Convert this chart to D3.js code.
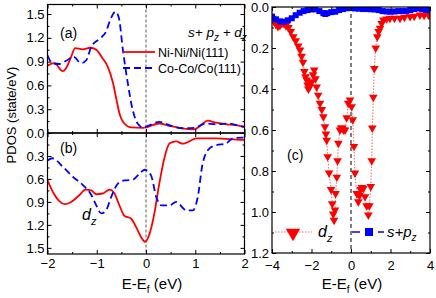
<!DOCTYPE html>
<html>
<head>
<meta charset="utf-8">
<script src="https://cdnjs.cloudflare.com/ajax/libs/d3/7.8.5/d3.min.js"></script>
<style>
body { margin: 0; background: #fff; }
text { font-family: "Liberation Sans", Arial, sans-serif; }
</style>
</head>
<body>
<div id="chart"></div>
<script>
// panel (a): s+pz+dz
var aRedE = [-2, -1.86, -1.69, -1.62, -1.52, -1.44, -1.29, -1.13, -1.01, -0.88, -0.78, -0.67, -0.6, -0.54, -0.44, -0.3, -0.06, 0.27, 0.48, 0.68, 0.98, 1.12, 1.25, 1.42, 1.63, 1.83, 2.0]
var aRedV = [0.85, 0.88, 0.78, 0.82, 0.96, 1.07, 1.055, 1.075, 1.05, 0.94, 0.84, 0.63, 0.42, 0.25, 0.12, 0.07, 0.065, 0.12, 0.09, 0.065, 0.045, 0.10, 0.155, 0.13, 0.11, 0.10, 0.07]
var aBlueE = [-2, -1.9, -1.76, -1.62, -1.47, -1.32, -1.21, -1.11, -0.94, -0.81, -0.73, -0.62, -0.55, -0.47, -0.37, -0.27, -0.17, -0.06, 0, 0.27, 0.51, 0.75, 0.98, 1.21, 1.42, 1.69, 1.9, 2.0]
var aBlueV = [0.98, 0.88, 0.87, 0.91, 0.96, 0.88, 0.92, 1.09, 1.19, 1.28, 1.42, 1.53, 1.45, 1.05, 0.63, 0.29, 0.12, 0.07, 0.08, 0.14, 0.09, 0.06, 0.065, 0.12, 0.11, 0.12, 0.09, 0.08]

// panel (b): dz (axis reversed)
var bRedE = [-2, -1.89, -1.76, -1.65, -1.52, -1.35, -1.23, -1.11, -1.01, -0.88, -0.74, -0.64, -0.54, -0.44, -0.30, -0.20, -0.10, -0.02, 0.07, 0.17, 0.27, 0.38, 0.48, 0.61, 0.75, 0.88, 1.02, 1.42, 1.96, 2.0]
var bRedV = [0.62, 0.77, 0.89, 0.93, 0.90, 0.81, 0.74, 0.75, 0.80, 0.79, 0.74, 0.79, 0.945, 1.08, 1.12, 1.23, 1.36, 1.42, 1.32, 1.05, 0.66, 0.31, 0.135, 0.11, 0.14, 0.11, 0.07, 0.07, 0.09, 0.09]
var bBlueE = [-2, -1.9, -1.69, -1.49, -1.28, -1.11, -1.01, -0.91, -0.81, -0.71, -0.57, -0.44, -0.27, -0.13, -0.03, 0.1, 0.21, 0.31, 0.48, 0.61, 0.82, 0.95, 1.05, 1.15, 1.29, 1.42, 1.63, 1.76, 1.96, 2.0]
var bBlueV = [0.36, 0.33, 0.44, 0.57, 0.68, 0.81, 0.945, 1.05, 1.01, 0.84, 0.66, 0.62, 0.61, 0.53, 0.48, 0.55, 0.84, 0.945, 0.945, 0.90, 1.01, 1.01, 0.84, 0.40, 0.20, 0.16, 0.135, 0.07, 0.06, 0.06]

// panel (c): dz (triangles) and s+pz (squares)
var cDzE = [-4.0, -3.9, -3.8, -3.7, -3.6, -3.5, -3.43, -3.3, -3.17, -3.05, -2.92, -2.8, -2.67, -2.58, -2.5, -2.43, -2.36, -2.3, -2.24, -2.2, -2.16, -2.1, -2.04, -1.99, -1.92, -1.86, -1.8, -1.74, -1.66, -1.57, -1.48, -1.40, -1.32, -1.27, -1.23, -1.18, -1.11, -1.01, -0.95, -0.9, -0.86, -0.81, -0.78, -0.72, -0.68, -0.64, -0.56, -0.5, -0.44, -0.37, -0.30, -0.22, -0.14, -0.05, 0.03, 0.09, 0.15, 0.2, 0.29, 0.37, 0.43, 0.49, 0.55, 0.62, 0.71, 0.79, 0.88, 0.93, 1.0, 1.05, 1.08, 1.13, 1.18, 1.25, 1.33, 1.4, 1.47, 1.55, 1.64, 1.8, 1.97, 2.2, 2.48, 2.7, 2.99, 3.2, 3.49, 3.7, 3.92, 4.0]
var cDzV = [0.055, 0.07, 0.085, 0.095, 0.09, 0.08, 0.08, 0.09, 0.10, 0.12, 0.145, 0.165, 0.19, 0.21, 0.24, 0.27, 0.315, 0.34, 0.356, 0.38, 0.40, 0.39, 0.37, 0.364, 0.33, 0.307, 0.35, 0.39, 0.43, 0.47, 0.50, 0.535, 0.584, 0.62, 0.65, 0.73, 0.81, 0.89, 0.96, 1.01, 1.04, 0.99, 0.91, 0.83, 0.75, 0.665, 0.60, 0.59, 0.59, 0.60, 0.60, 0.54, 0.47, 0.454, 0.486, 0.55, 0.68, 0.81, 0.91, 0.95, 0.92, 0.89, 0.88, 0.885, 0.925, 0.97, 1.015, 0.97, 0.876, 0.75, 0.59, 0.44, 0.30, 0.20, 0.145, 0.12, 0.104, 0.08, 0.063, 0.058, 0.055, 0.055, 0.055, 0.05, 0.047, 0.045, 0.039, 0.04, 0.039, 0.04]
var cSpE = [-4.0, -3.8, -3.6, -3.4, -3.2, -3.0, -2.8, -2.6, -2.4, -2.2, -2.0, -1.8, -1.6, -1.4, -1.3, -1.2, -1.0, -0.8, -0.6, -0.4, -0.2, 0.0, 0.2, 0.4, 0.6, 0.8, 1.0, 1.2, 1.4, 1.6, 1.8, 2.0, 2.2, 2.4, 2.6, 2.8, 3.0, 3.2, 3.4, 3.6, 3.8, 4.0]
var cSpV = [0.047, 0.06, 0.07, 0.072, 0.065, 0.055, 0.04, 0.028, 0.02, 0.015, 0.012, 0.011, 0.02, 0.03, 0.034, 0.03, 0.025, 0.023, 0.015, 0.01, 0.006, 0.005, 0.007, 0.008, 0.01, 0.01, 0.011, 0.012, 0.015, 0.02, 0.022, 0.023, 0.022, 0.02, 0.02, 0.02, 0.015, 0.01, 0.007, 0.01, 0.014, 0.016]

var leftYTicks = [0, 0.3, 0.6, 0.9, 1.2, 1.5]
var leftXTicks = [-2, -1, 0, 1, 2]
var cXTicks = [-4, -2, 0, 2, 4]
var cYTicks = [0, 0.2, 0.4, 0.6, 0.8, 1.0, 1.2]

var red = "#ff0000", blue = "#0000ff";

var svg = d3.select("#chart").append("svg")
    .attr("width", 436).attr("height", 298)
    .style("background", "#fff");

var xL = d3.scaleLinear().domain([-2, 2]).range([47.5, 244.5]);
var yA = d3.scaleLinear().domain([0, 1.62]).range([133, 4.5]);
var yB = d3.scaleLinear().domain([0, 1.58]).range([133, 254]);
var xC = d3.scaleLinear().domain([-4, 4]).range([272, 430]);
var yC = d3.scaleLinear().domain([0, 1.2]).range([7, 253]);

function zip(e, v) { return e.map(function(d, i) { return [d, v[i]] }) }

function ticks(axisFn, scale, vals, len, pos, labels, fmt, pad) {
  var ax = axisFn(scale).tickValues(vals).tickSizeInner(len).tickSizeOuter(0)
      .tickPadding(pad || 3)
      .tickFormat(labels ? fmt : "");
  var g = svg.append("g").attr("transform", pos).call(ax);
  g.select(".domain").remove();
  g.selectAll("line").attr("stroke", "#000");
  g.selectAll("text").attr("font-size", 13).attr("fill", "#000")
    .attr("font-family", "'Liberation Sans', Arial, sans-serif");
  return g;
}
function minors(domain, step) {
  var out = [];
  for (var v = domain[0]; v <= domain[1] + 1e-9; v += step) out.push(+v.toFixed(3));
  return out;
}

// clip paths
var defs = svg.append("defs");
defs.append("clipPath").attr("id", "clipA").append("rect").attr("x", 47.5).attr("y", 4.5).attr("width", 197).attr("height", 128.5);
defs.append("clipPath").attr("id", "clipB").append("rect").attr("x", 47.5).attr("y", 133).attr("width", 197).attr("height", 121);
defs.append("clipPath").attr("id", "clipC").append("rect").attr("x", 272).attr("y", 7).attr("width", 158).attr("height", 246);

// zero lines
svg.append("line").attr("x1", xL(0)).attr("x2", xL(0)).attr("y1", 4.5).attr("y2", 254)
  .attr("stroke", "#808080").attr("stroke-width", 1.3).attr("stroke-dasharray", "3,2");
svg.append("line").attr("x1", xC(0)).attr("x2", xC(0)).attr("y1", 7).attr("y2", 253)
  .attr("stroke", "#000").attr("stroke-width", 1).attr("stroke-dasharray", "4,3");

// curves panel a/b
var lineA = d3.line().x(function(d) { return xL(d[0]) }).y(function(d) { return yA(d[1]) }).curve(d3.curveMonotoneX);
var lineB = d3.line().x(function(d) { return xL(d[0]) }).y(function(d) { return yB(d[1]) }).curve(d3.curveMonotoneX);

var gA = svg.append("g").attr("clip-path", "url(#clipA)");
gA.append("path").attr("d", lineA(zip(aRedE, aRedV))).attr("fill", "none").attr("stroke", red).attr("stroke-width", 1.8);
gA.append("path").attr("d", lineA(zip(aBlueE, aBlueV))).attr("fill", "none").attr("stroke", blue).attr("stroke-width", 1.8).attr("stroke-dasharray", "7,4");
var gB = svg.append("g").attr("clip-path", "url(#clipB)");
gB.append("path").attr("d", lineB(zip(bRedE, bRedV))).attr("fill", "none").attr("stroke", red).attr("stroke-width", 1.8);
gB.append("path").attr("d", lineB(zip(bBlueE, bBlueV))).attr("fill", "none").attr("stroke", blue).attr("stroke-width", 1.8).attr("stroke-dasharray", "7,4");

// panel c
var lineC = d3.line().x(function(d) { return xC(d[0]) }).y(function(d) { return yC(d[1]) });
var gC = svg.append("g").attr("clip-path", "url(#clipC)");
var dz = zip(cDzE, cDzV), sp = zip(cSpE, cSpV);
gC.append("path").attr("d", lineC(dz)).attr("fill", "none").attr("stroke", "#ff5050").attr("stroke-width", 0.9).attr("stroke-dasharray", "1.5,1.5");
gC.append("path").attr("d", lineC(sp)).attr("fill", "none").attr("stroke", blue).attr("stroke-width", 3);
var tri = d3.symbol().type(d3.symbolTriangle).size(32);
gC.selectAll(".tri").data(dz).enter().append("path")
  .attr("d", tri)
  .attr("transform", function(d) { return "translate(" + xC(d[0]) + "," + yC(d[1]) + ") rotate(180)" })
  .attr("fill", red);
gC.selectAll(".sq").data(sp).enter().append("rect")
  .attr("x", function(d) { return xC(d[0]) - 3 }).attr("y", function(d) { return yC(d[1]) - 3 })
  .attr("width", 6).attr("height", 6).attr("fill", blue);

// frames
[[47.5, 4.5, 197, 128.5], [47.5, 133, 197, 121], [272, 7, 158, 246]].forEach(function(r) {
  svg.append("rect").attr("x", r[0]).attr("y", r[1]).attr("width", r[2]).attr("height", r[3])
    .attr("fill", "none").attr("stroke", "#000").attr("stroke-width", 1.2);
});

var f1 = d3.format(".1f"), f0 = d3.format("d");

// panel a ticks
ticks(d3.axisLeft, yA, leftYTicks, -4, "translate(47.5,0)", true, f1);
ticks(d3.axisLeft, yA, minors([0.15, 1.55], 0.3), -2, "translate(47.5,0)", false);
ticks(d3.axisRight, yA, leftYTicks, -4, "translate(244.5,0)", false);
ticks(d3.axisRight, yA, minors([0.15, 1.55], 0.3), -2, "translate(244.5,0)", false);
ticks(d3.axisBottom, xL, leftXTicks, -4, "translate(0,133)", false);
ticks(d3.axisBottom, xL, minors([-1.5, 1.5], 1), -2, "translate(0,133)", false);
ticks(d3.axisTop, xL, leftXTicks, -4, "translate(0,4.5)", false);
ticks(d3.axisTop, xL, minors([-1.5, 1.5], 1), -2, "translate(0,4.5)", false);

// panel b ticks
ticks(d3.axisLeft, yB, leftYTicks.slice(1), -4, "translate(47.5,0)", true, f1);
ticks(d3.axisLeft, yB, minors([0.15, 1.45], 0.3), -2, "translate(47.5,0)", false);
ticks(d3.axisRight, yB, leftYTicks, -4, "translate(244.5,0)", false);
ticks(d3.axisRight, yB, minors([0.15, 1.45], 0.3), -2, "translate(244.5,0)", false);
ticks(d3.axisBottom, xL, leftXTicks, -4, "translate(0,254)", true, f0, 5);
ticks(d3.axisBottom, xL, minors([-1.5, 1.5], 1), -2, "translate(0,254)", false);
ticks(d3.axisTop, xL, leftXTicks, -4, "translate(0,133)", false);
ticks(d3.axisTop, xL, minors([-1.5, 1.5], 1), -2, "translate(0,133)", false);

// panel c ticks
ticks(d3.axisLeft, yC, cYTicks, -4, "translate(272,0)", true, f1);
ticks(d3.axisLeft, yC, minors([0.1, 1.1], 0.2), -2, "translate(272,0)", false);
ticks(d3.axisRight, yC, cYTicks, -4, "translate(430,0)", false);
ticks(d3.axisRight, yC, minors([0.1, 1.1], 0.2), -2, "translate(430,0)", false);
ticks(d3.axisBottom, xC, cXTicks, -4, "translate(0,253)", true, f0, 8);
ticks(d3.axisBottom, xC, minors([-3, 3], 2), -2, "translate(0,253)", false);
ticks(d3.axisTop, xC, cXTicks, -4, "translate(0,7)", false);
ticks(d3.axisTop, xC, minors([-3, 3], 2), -2, "translate(0,7)", false);

// axis titles
function eef(x) {
  var t = svg.append("text").attr("x", x).attr("y", 289).attr("text-anchor", "middle").attr("font-size", 15);
  t.append("tspan").text("E-E");
  t.append("tspan").attr("dy", 4).attr("font-size", 10).text("f");
  t.append("tspan").attr("dy", -4).text(" (eV)");
}
eef(152); eef(352);
svg.append("text").attr("transform", "translate(16,115) rotate(-90)").attr("text-anchor", "middle")
  .attr("font-size", 13).text("PDOS (state/eV)");

// panel labels
svg.append("text").attr("x", 60).attr("y", 38).attr("font-size", 14).text("(a)");
svg.append("text").attr("x", 60).attr("y", 153).attr("font-size", 14).text("(b)");
svg.append("text").attr("x", 287).attr("y", 160).attr("font-size", 14).text("(c)");

// s+pz+dz title
var tt = svg.append("text").attr("x", 188).attr("y", 37).attr("font-size", 13.5).attr("font-style", "italic");
tt.append("tspan").text("s+ p");
tt.append("tspan").attr("dy", 4).attr("font-size", 10).text("z");
tt.append("tspan").attr("dy", -4).text(" + d");
tt.append("tspan").attr("dy", 4).attr("font-size", 10).text("z");

// dz in panel b
var dzt = svg.append("text").attr("x", 82).attr("y", 220).attr("font-size", 16).attr("font-style", "italic");
dzt.append("tspan").text("d");
dzt.append("tspan").attr("dy", 5).attr("font-size", 11).text("z");

// legend panel a
svg.append("line").attr("x1", 123).attr("x2", 155).attr("y1", 52).attr("y2", 52).attr("stroke", red).attr("stroke-width", 1.8);
svg.append("line").attr("x1", 123).attr("x2", 155).attr("y1", 68).attr("y2", 68).attr("stroke", blue).attr("stroke-width", 1.8).attr("stroke-dasharray", "7,4");
svg.append("text").attr("x", 158).attr("y", 57).attr("font-size", 12.5).text("Ni-Ni/Ni(111)");
svg.append("text").attr("x", 158).attr("y", 73).attr("font-size", 12.5).text("Co-Co/Co(111)");

// legend panel c
svg.append("line").attr("x1", 275).attr("x2", 312).attr("y1", 232).attr("y2", 232).attr("stroke", "#ff5050").attr("stroke-width", 0.9).attr("stroke-dasharray", "1.5,1.5");
svg.append("path").attr("d", d3.symbol().type(d3.symbolTriangle).size(90)).attr("transform", "translate(293,233) rotate(180)").attr("fill", red);
var ld = svg.append("text").attr("x", 318).attr("y", 237).attr("font-size", 16).attr("font-style", "italic");
ld.append("tspan").text("d");
ld.append("tspan").attr("dy", 5).attr("font-size", 11).text("z");
svg.append("line").attr("x1", 352).attr("x2", 384).attr("y1", 232).attr("y2", 232).attr("stroke", blue).attr("stroke-width", 1.5).attr("stroke-dasharray", "8,5");
svg.append("rect").attr("x", 365).attr("y", 228).attr("width", 8).attr("height", 8).attr("fill", blue);
var ls = svg.append("text").attr("x", 387).attr("y", 237).attr("font-size", 15).attr("font-style", "italic");
ls.append("tspan").text("s+p");
ls.append("tspan").attr("dy", 4).attr("font-size", 10).text("z");
</script>
</body>
</html>
